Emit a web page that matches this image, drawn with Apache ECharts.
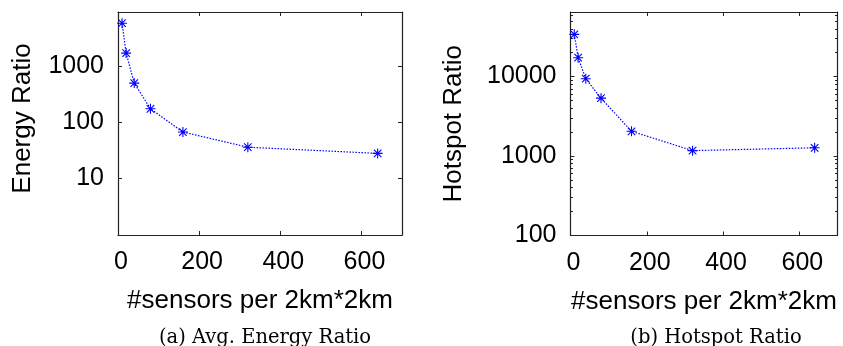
<!DOCTYPE html>
<html>
<head>
<meta charset="utf-8">
<script src="https://cdn.jsdelivr.net/npm/echarts@6/dist/echarts.min.js"></script>
<style>
html,body{margin:0;padding:0;background:#fff;}
#c{width:843px;height:346px;}
</style>
</head>
<body>
<div id="c"></div>
<script>
// ---- data ----
const sensors = [10, 20, 40, 80, 160, 320, 640];
const energyRatio = [5700, 1680, 494, 173, 67, 36, 28];
const hotspotRatio = [34000, 17300, 9400, 5350, 2050, 1170, 1270];
const xTicks = [0, 200, 400, 600];
const energyTicks = [10, 100, 1000];
const hotspotTicks = [100, 1000, 10000];
const hotspotMinor = [200,300,400,500,600,700,800,900,2000,3000,4000,5000,6000,7000,8000,9000,20000,30000,40000,50000,60000];
const xTitle = '#sensors per 2km*2km';
const yTitleA = 'Energy Ratio';
const yTitleB = 'Hotspot Ratio';
const captionA = '(a) Avg. Energy Ratio';
const captionB = '(b) Hotspot Ratio';

const FONT = 'Liberation Sans, Arial, Helvetica, sans-serif';
const BLUE = '#0000ff';
const AX = '#222';
const STAR = 'path://M8.9 0H11.1V20H8.9Z M0 8.9H20V11.1H0Z M1.72 3.28L3.28 1.72L18.28 16.72L16.72 18.28Z M16.72 1.72L18.28 3.28L3.28 18.28L1.72 16.72Z';

const pair = (xs, ys) => xs.map((x, i) => [x, ys[i]]);
const isPow10 = v => { const l = Math.log10(v); return Math.abs(l - Math.round(l)) < 1e-6; };

function xAxes(gi) {
  const base = {
    gridIndex: gi, type: 'value', min: 0, max: 700, interval: 200,
    splitLine: {show: false},
    axisLine: {show: true, onZero: false, lineStyle: {color: AX, width: 1.2}},
    axisTick: {show: true, inside: true, length: 4, lineStyle: {color: AX, width: 1}, customValues: xTicks},
  };
  return [
    Object.assign({}, base, {
      position: 'bottom',
      name: xTitle, nameLocation: 'middle', nameGap: 53,
      nameTextStyle: {fontFamily: FONT, fontSize: 26, color: '#000'},
      axisLabel: {show: true, customValues: xTicks, margin: 15, fontFamily: FONT, fontSize: 25, color: '#000', padding: [0, 0, 0, 6]},
    }),
    Object.assign({}, base, {position: 'top', axisLabel: {show: false}}),
  ];
}

function yAxes(gi, mn, mx, majors, title, gap, namePad, minors) {
  const base = {
    gridIndex: gi, type: 'log', logBase: 10, min: mn, max: mx,
    splitLine: {show: false},
    axisLine: {show: true, onZero: false, lineStyle: {color: AX, width: 1.2}},
    axisTick: {show: true, inside: true, length: 4, lineStyle: {color: AX, width: 1}, customValues: majors},
  };
  const arr = [
    Object.assign({}, base, {
      position: 'left',
      name: title, nameLocation: 'middle', nameGap: gap, nameRotate: 90,
      nameTextStyle: {fontFamily: FONT, fontSize: 26, color: '#000', padding: namePad},
      axisLabel: {show: true, customValues: majors, margin: 14, fontFamily: FONT, fontSize: 25, color: '#000',
        formatter: v => isPow10(v) ? String(Math.round(v)) : ''},
    }),
    Object.assign({}, base, {position: 'right', axisLabel: {show: false}}),
  ];
  if (minors) {
    ['left', 'right'].forEach(p => {
      arr.push(Object.assign({}, base, {
        position: p, axisLabel: {show: false}, axisLine: {show: false, onZero: false},
        axisTick: {show: true, inside: true, length: 2.5, lineStyle: {color: AX, width: 1}, customValues: minors},
      }));
    });
  }
  return arr;
}

const xA = xAxes(0).concat(xAxes(1));
const yA0 = yAxes(0, 1, 9000, energyTicks, yTitleA, 82, [0, 0, 0, 10], null);
const yA1 = yAxes(1, 100, 65000, hotspotTicks, yTitleB, 104, [0, 0, 0, 0], hotspotMinor);
const yA = yA0.concat(yA1);

const seriesStyle = {
  type: 'line', symbol: STAR, symbolSize: 10, showAllSymbol: true,
  lineStyle: {color: BLUE, width: 1.2, type: [1.5, 1.5]},
  itemStyle: {color: BLUE, borderWidth: 0},
  z: 5,
};

const chart = echarts.init(document.getElementById('c'), null, {renderer: 'canvas'});
chart.setOption({
  animation: false,
  backgroundColor: '#fff',
  grid: [
    {left: 118, top: 12, width: 284, height: 223, containLabel: false},
    {left: 570.5, top: 12, width: 267, height: 223.5, containLabel: false},
  ],
  xAxis: xA,
  yAxis: yA,
  series: [
    Object.assign({}, seriesStyle, {name: yTitleA, xAxisIndex: 0, yAxisIndex: 0, data: pair(sensors, energyRatio)}),
    Object.assign({}, seriesStyle, {name: yTitleB, xAxisIndex: 2, yAxisIndex: 2, data: pair(sensors, hotspotRatio)}),
  ],
  graphic: [
    {type: 'text', style: {text: captionA, x: 265, y: 338, fontFamily: 'DejaVu Serif, serif', fontSize: 19.5, fill: '#000', align: 'center', verticalAlign: 'middle'}},
    {type: 'text', style: {text: captionB, x: 716, y: 338, fontFamily: 'DejaVu Serif, serif', fontSize: 19.5, fill: '#000', align: 'center', verticalAlign: 'middle'}},
  ],
});
</script>
</body>
</html>
